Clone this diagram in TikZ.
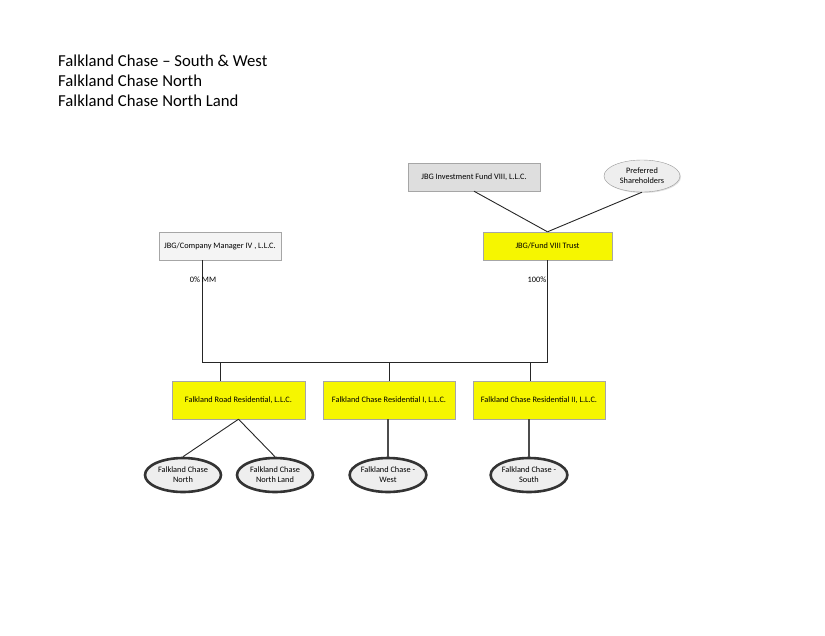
\documentclass[tikz,border=0pt]{standalone}
\usepackage{fontspec}
\setmainfont{Carlito}
\usepackage{tikz}
\usetikzlibrary{positioning, shapes.geometric, shadows}
\definecolor{boxyellow}{RGB}{246,246,0}
\definecolor{boxgray}{RGB}{222,222,222}
\definecolor{boxwhite}{RGB}{244,244,244}
\definecolor{ovalfill}{RGB}{238,238,238}

\begin{document}
\begin{tikzpicture}[x=1pt, y=-1pt,
  entity/.style={draw=gray!70, inner sep=0pt, font=\fontsize{8.3}{10}\selectfont,
    align=center, drop shadow={shadow xshift=1pt, shadow yshift=-1pt, opacity=0.25}},
  owner/.style={entity, fill=boxyellow},
  oval/.style={ellipse, draw=black!80, line width=2.6pt, fill=ovalfill, inner sep=0pt,
    minimum width=76pt, minimum height=34pt, font=\fontsize{8.3}{10}\selectfont, align=center},
  link/.style={draw=black!85, line width=0.9pt},
  pct/.style={font=\fontsize{8.3}{10}\selectfont, inner sep=0pt},
  title/.style={anchor=west, font=\fontsize{16.7}{20}\selectfont, inner sep=0pt}]
  \useasboundingbox (0,0) rectangle (825,635);

  % titles
  \node[title] (t1) at (58,61) {Falkland Chase – South \& West};
  \node[title] (t2) at (58,81) {Falkland Chase North};
  \node[title] (t3) at (58,101) {Falkland Chase North Land};

  % top level
  \node[entity, fill=boxgray, minimum width=132pt, minimum height=28pt] (inv) at (474,177) {JBG Investment Fund VIII, L.L.C.};
  \node[ellipse, draw=gray!80, fill=ovalfill, inner sep=0pt, minimum width=76pt, minimum height=32pt,
    font=\fontsize{8.3}{10}\selectfont, align=center,
    drop shadow={shadow xshift=1pt, shadow yshift=-1pt, opacity=0.25}] (pref) at (642,176) {Preferred\\Shareholders};
  \node[owner, minimum width=129pt, minimum height=28pt] (trust) at (547.5,246) {JBG/Fund VIII Trust};
  \node[entity, fill=boxwhite, minimum width=122pt, minimum height=28pt] (mgr) at (220,246) {JBG/Company Manager IV , L.L.C.};

  % partnerships
  \node[owner, minimum width=133pt, minimum height=38pt] (road) at (238.5,400) {Falkland Road Residential, L.L.C.};
  \node[owner, minimum width=132pt, minimum height=38pt] (res1) at (389,400) {Falkland Chase Residential I, L.L.C.};
  \node[owner, minimum width=132pt, minimum height=38pt] (res2) at (539,400) {Falkland Chase Residential II, L.L.C.};

  % properties
  \node[oval] (north) at (183,475) {Falkland Chase\\North};
  \node[oval] (nland) at (275,475) {Falkland Chase\\North Land};
  \node[oval] (west)  at (388,475) {Falkland Chase -\\West};
  \node[oval] (south) at (529,475) {Falkland Chase -\\South};

  % bus
  \coordinate (busL) at (202,362);
  \coordinate (busR) at (547.5,362);
  \coordinate (d1) at (220,362);
  \coordinate (d2) at (389,362);
  \coordinate (d3) at (530,362);

  \draw[link] (inv.south) -- (trust.north);
  \draw[link] (pref.south) -- (trust.north);
  \draw[link] (mgr.south -| busL) -- (busL) -- (busR) -- (trust.south);
  \draw[link] (d1) -- (d1 |- road.north);
  \draw[link] (d2) -- (d2 |- res1.north);
  \draw[link] (d3) -- (d3 |- res2.north);
  \draw[link] (road.south) -- (north.north);
  \draw[link] (road.south) -- (nland.north);
  \draw[link, line width=1.4pt, draw=black!70] (res1.south -| west.north) -- (west.north);
  \draw[link, line width=1.4pt, draw=black!70] (res2.south -| south.north) -- (south.north);

  \node[pct] (mm) at (203,280) {0\% MM};
  \node[pct] (hund) at (537,280) {100\%};
\end{tikzpicture}
\end{document}
